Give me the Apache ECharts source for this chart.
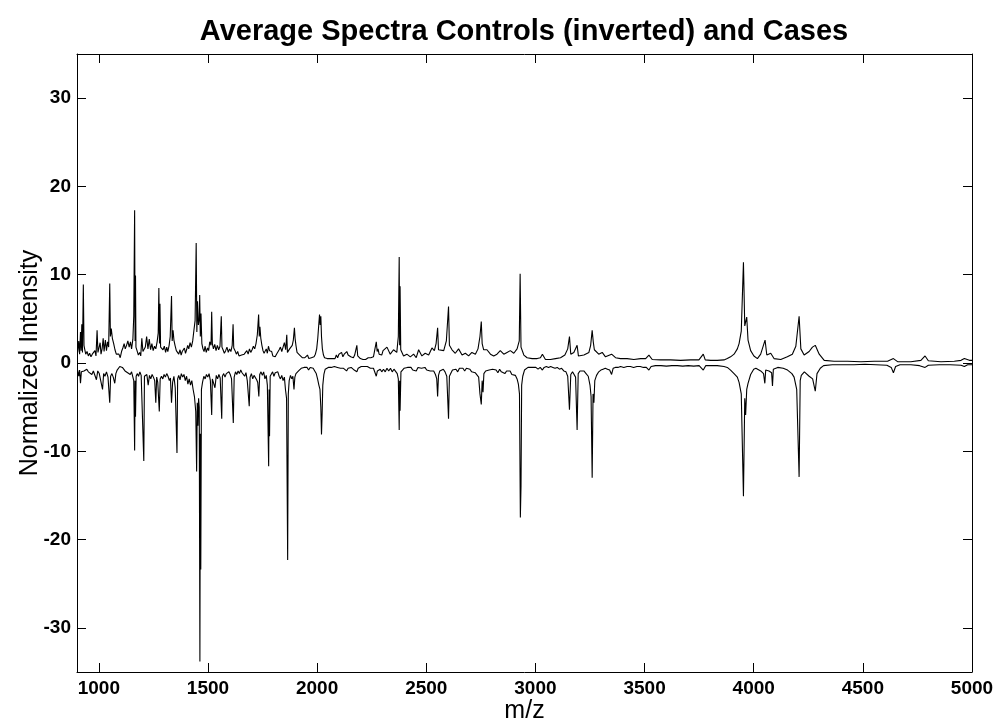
<!DOCTYPE html>
<html>
<head>
<meta charset="utf-8">
<title>Average Spectra</title>
<script src="https://cdn.jsdelivr.net/npm/echarts@6/dist/echarts.min.js"></script>
<style>
  html, body { margin: 0; padding: 0; background: #fff; }
  #chart { width: 996px; height: 724px; }
</style>
</head>
<body>
<div id="chart"></div>
<script>
// tick positions
const mzTicks = [1000, 1500, 2000, 2500, 3000, 3500, 4000, 4500, 5000];
const intensityTicks = [-30, -20, -10, 0, 10, 20, 30];

// average spectrum of the cases, [m/z, intensity]
const cases = [
  [903, 1.2], [908, 2.5], [912, 1.0], [916, 3.5], [919, 1.4], [922, 4.4], [925, 1.2], [929, 8.9], [932, 2.0], [935, 1.6],
  [940, 1.0], [946, 1.3], [952, 0.8], [958, 1.1], [964, 0.7], [970, 1.0], [976, 0.9], [982, 1.4], [987, 0.8], [992, 3.7],
  [996, 1.2], [1001, 1.0], [1006, 2.3], [1010, 1.0], [1015, 1.6], [1020, 2.8], [1024, 1.3], [1030, 2.6], [1035, 1.4], [1040, 2.4],
  [1045, 1.8], [1050, 9.0], [1053, 3.0], [1057, 3.9], [1062, 2.8], [1068, 2.2], [1074, 1.5], [1080, 1.0], [1086, 0.8], [1092, 1.0],
  [1098, 0.6], [1104, 1.3], [1110, 1.7], [1116, 2.2], [1121, 1.6], [1127, 2.0], [1133, 2.5], [1139, 1.8], [1145, 2.4], [1150, 1.6],
  [1156, 2.7], [1160, 5.3], [1164, 17.3], [1166, 2.5], [1168, 9.9], [1170, 1.8], [1175, 1.4], [1181, 0.9], [1187, 1.2], [1192, 0.8],
  [1197, 2.8], [1202, 1.3], [1207, 1.2], [1213, 1.8], [1219, 3.0], [1225, 1.6], [1231, 2.7], [1237, 1.5], [1243, 2.2], [1249, 1.4],
  [1255, 1.9], [1261, 1.6], [1267, 2.4], [1272, 3.4], [1275, 8.5], [1278, 2.2], [1280, 6.7], [1283, 1.8], [1288, 2.0], [1294, 1.5],
  [1300, 1.9], [1306, 1.2], [1311, 1.8], [1316, 1.3], [1322, 2.0], [1327, 3.0], [1333, 7.6], [1336, 2.5], [1340, 3.7], [1344, 2.6],
  [1349, 2.0], [1355, 1.4], [1361, 1.6], [1366, 1.0], [1372, 1.5], [1377, 0.9], [1382, 1.3], [1387, 1.2], [1392, 1.7], [1397, 1.1],
  [1402, 1.5], [1407, 2.0], [1412, 1.6], [1418, 2.3], [1424, 1.8], [1430, 2.5], [1436, 3.8], [1441, 4.8], [1446, 13.6], [1449, 3.5],
  [1452, 7.0], [1456, 4.3], [1460, 5.0], [1462, 7.7], [1465, 3.0], [1468, 5.6], [1472, 2.2], [1477, 1.6], [1482, 1.3], [1487, 1.9],
  [1492, 1.2], [1498, 1.7], [1503, 1.4], [1508, 2.4], [1514, 2.0], [1517, 5.8], [1520, 2.2], [1525, 1.6], [1531, 2.1], [1537, 1.4],
  [1543, 2.0], [1549, 1.5], [1555, 1.9], [1561, 5.3], [1564, 1.8], [1569, 1.5], [1575, 1.1], [1581, 1.4], [1587, 1.8], [1593, 1.2],
  [1599, 1.6], [1605, 1.3], [1611, 2.0], [1615, 4.4], [1618, 1.7], [1624, 1.4], [1630, 1.0], [1636, 1.3], [1642, 0.8], [1648, 0.6],
  [1654, 0.9], [1660, 0.7], [1666, 1.0], [1672, 0.8], [1678, 1.4], [1684, 1.0], [1690, 1.6], [1696, 1.2], [1702, 1.5], [1708, 1.9],
  [1714, 1.6], [1720, 2.2], [1726, 3.2], [1732, 5.5], [1735, 3.0], [1738, 4.1], [1742, 2.8], [1747, 2.0], [1752, 1.4], [1757, 1.1],
  [1762, 0.9], [1767, 1.6], [1772, 1.1], [1777, 1.9], [1782, 1.4], [1787, 1.2], [1792, 1.3], [1797, 0.8], [1802, 0.9], [1808, 0.7],
  [1814, 1.0], [1820, 1.2], [1826, 1.5], [1832, 1.8], [1838, 1.3], [1844, 1.8], [1850, 2.3], [1856, 1.5], [1861, 3.2], [1864, 1.2],
  [1868, 1.3], [1874, 1.6], [1880, 1.4], [1886, 2.0], [1891, 2.6], [1896, 4.0], [1899, 2.8], [1903, 2.0], [1908, 1.2], [1914, 1.0],
  [1920, 0.9], [1926, 0.7], [1932, 0.6], [1938, 0.8], [1944, 0.6], [1950, 0.7], [1956, 0.9], [1962, 0.5], [1968, 0.7], [1974, 0.6],
  [1980, 0.8], [1986, 0.7], [1992, 1.0], [1998, 1.6], [2003, 2.8], [2008, 4.5], [2011, 5.5], [2014, 4.3], [2017, 5.3], [2020, 3.0],
  [2024, 1.6], [2029, 0.9], [2034, 0.6], [2040, 0.5], [2046, 0.5], [2052, 0.6], [2058, 0.5], [2064, 0.6], [2070, 0.5], [2076, 0.6],
  [2082, 0.5], [2088, 0.9], [2094, 0.6], [2100, 1.0], [2106, 0.8], [2112, 1.2], [2118, 0.7], [2124, 1.0], [2130, 0.8], [2136, 1.3],
  [2142, 0.9], [2148, 1.1], [2154, 0.7], [2160, 0.8], [2166, 0.6], [2172, 0.9], [2178, 1.0], [2182, 2.0], [2186, 0.8], [2192, 0.6],
  [2198, 0.5], [2204, 0.5], [2210, 0.4], [2216, 0.5], [2222, 0.4], [2228, 0.5], [2234, 0.6], [2240, 0.5], [2246, 0.6], [2252, 0.5],
  [2258, 0.7], [2264, 0.6], [2271, 2.4], [2275, 1.3], [2279, 1.6], [2284, 1.0], [2290, 1.2], [2296, 0.9], [2302, 1.4], [2310, 1.2],
  [2320, 1.8], [2335, 1.0], [2350, 1.5], [2365, 1.2], [2372, 3.0], [2376, 12.0], [2378, 2.0], [2380, 8.7], [2383, 1.5], [2396, 0.8],
  [2411, 1.0], [2427, 0.7], [2442, 1.0], [2454, 0.6], [2465, 1.5], [2480, 0.8], [2495, 1.1], [2511, 0.9], [2526, 1.7], [2537, 1.4],
  [2545, 2.2], [2552, 4.0], [2556, 1.5], [2564, 1.7], [2580, 1.4], [2592, 2.5], [2602, 6.4], [2606, 2.0], [2618, 1.5], [2633, 1.1],
  [2648, 1.6], [2664, 0.9], [2679, 1.1], [2694, 0.8], [2709, 1.2], [2725, 1.0], [2737, 1.6], [2746, 3.0], [2752, 4.7], [2756, 2.2],
  [2763, 1.5], [2778, 1.5], [2794, 1.0], [2809, 0.8], [2824, 1.0], [2839, 1.4], [2855, 1.0], [2870, 1.2], [2885, 1.4], [2901, 1.1],
  [2916, 1.6], [2926, 2.5], [2930, 10.1], [2934, 1.8], [2947, 0.9], [2962, 0.6], [2985, 0.5], [3008, 0.5], [3023, 0.6], [3032, 1.0],
  [3046, 0.4], [3069, 0.4], [3092, 0.5], [3115, 0.6], [3135, 0.9], [3148, 1.6], [3156, 3.0], [3162, 1.0], [3176, 1.2], [3191, 2.0],
  [3197, 0.8], [3222, 0.9], [3245, 1.2], [3253, 2.0], [3260, 3.7], [3265, 2.4], [3270, 1.5], [3290, 1.0], [3306, 1.2], [3321, 0.7],
  [3349, 1.0], [3367, 0.6], [3390, 0.5], [3420, 0.5], [3451, 0.4], [3482, 0.5], [3505, 0.5], [3520, 0.9], [3535, 0.4], [3573, 0.35],
  [3619, 0.35], [3665, 0.3], [3711, 0.35], [3749, 0.35], [3769, 1.0], [3778, 0.35], [3803, 0.3], [3833, 0.3], [3864, 0.35], [3879, 0.5],
  [3894, 0.7], [3910, 1.0], [3925, 1.6], [3933, 2.2], [3943, 3.6], [3953, 11.4], [3959, 4.2], [3968, 5.2], [3974, 2.6], [3986, 1.4],
  [4001, 0.8], [4017, 0.5], [4032, 1.0], [4052, 2.6], [4060, 0.9], [4078, 1.1], [4093, 0.5], [4124, 0.4], [4154, 0.7], [4177, 1.0],
  [4193, 1.9], [4208, 5.3], [4216, 1.6], [4231, 0.9], [4254, 1.3], [4269, 1.8], [4282, 2.0], [4300, 1.0], [4323, 0.3], [4368, 0.2],
  [4430, 0.2], [4491, 0.15], [4552, 0.2], [4613, 0.2], [4640, 0.5], [4659, 0.15], [4720, 0.15], [4766, 0.3], [4785, 0.8], [4800, 0.25],
  [4858, 0.15], [4919, 0.2], [4950, 0.3], [4965, 0.5], [4988, 0.3], [5000, 0.3]
];

// average spectrum of the controls (positive), plotted inverted
const controls = [
  [903, 0.8], [908, 1.5], [912, 0.8], [916, 2.3], [920, 1.0], [926, 1.2], [932, 0.9], [938, 1.1], [945, 0.7], [952, 1.0],
  [960, 0.8], [968, 1.3], [975, 0.9], [989, 1.9], [995, 0.9], [1002, 1.2], [1008, 1.0], [1017, 3.0], [1022, 1.2], [1028, 1.5],
  [1035, 1.0], [1042, 1.6], [1050, 4.5], [1054, 1.5], [1060, 1.2], [1066, 1.6], [1073, 2.3], [1078, 1.2], [1084, 0.8], [1090, 0.6],
  [1096, 0.4], [1102, 0.3], [1108, 0.5], [1114, 0.6], [1120, 0.9], [1126, 0.7], [1132, 1.1], [1138, 0.9], [1144, 1.3], [1150, 1.0],
  [1156, 1.6], [1160, 2.0], [1164, 9.9], [1166, 2.0], [1168, 6.1], [1171, 1.5], [1176, 1.2], [1182, 1.5], [1188, 1.0], [1194, 1.4],
  [1200, 1.2], [1206, 11.1], [1209, 1.5], [1214, 1.6], [1220, 1.3], [1226, 2.5], [1232, 1.4], [1238, 1.8], [1244, 1.3], [1250, 1.6],
  [1256, 2.0], [1261, 4.5], [1265, 1.6], [1270, 2.2], [1277, 5.5], [1281, 1.8], [1287, 1.5], [1293, 1.8], [1299, 1.3], [1305, 1.6],
  [1311, 1.2], [1317, 1.5], [1323, 2.0], [1328, 1.7], [1333, 4.5], [1338, 2.2], [1344, 1.5], [1350, 2.8], [1358, 10.2], [1361, 1.8],
  [1366, 1.4], [1372, 1.9], [1378, 1.2], [1384, 1.6], [1390, 1.3], [1396, 2.0], [1402, 1.5], [1408, 2.4], [1414, 1.8], [1420, 2.5],
  [1426, 2.0], [1432, 3.0], [1438, 3.8], [1444, 5.5], [1448, 12.3], [1451, 4.5], [1454, 7.1], [1457, 4.0], [1460, 5.0], [1463, 33.8],
  [1465, 8.0], [1467, 23.4], [1470, 3.0], [1475, 2.2], [1481, 1.5], [1487, 1.8], [1493, 1.3], [1499, 1.6], [1505, 1.2], [1511, 2.0],
  [1517, 5.9], [1520, 1.8], [1526, 1.6], [1532, 2.8], [1538, 1.4], [1544, 1.8], [1550, 1.3], [1556, 1.7], [1563, 6.3], [1566, 1.5],
  [1572, 1.2], [1578, 1.6], [1584, 1.2], [1590, 1.4], [1596, 1.0], [1602, 1.3], [1608, 1.8], [1616, 6.8], [1620, 1.6], [1626, 1.0],
  [1632, 1.3], [1638, 0.9], [1644, 1.2], [1650, 0.8], [1656, 1.1], [1662, 0.9], [1668, 1.5], [1674, 1.1], [1680, 2.0], [1689, 4.9],
  [1693, 1.6], [1699, 1.2], [1705, 1.8], [1711, 1.4], [1717, 1.6], [1723, 1.9], [1728, 2.2], [1733, 3.8], [1737, 1.3], [1743, 1.0],
  [1749, 1.4], [1755, 1.0], [1761, 1.8], [1767, 1.4], [1772, 2.5], [1778, 11.7], [1780, 3.0], [1782, 8.3], [1785, 1.5], [1790, 1.3],
  [1796, 1.0], [1802, 1.5], [1808, 1.1], [1814, 1.3], [1820, 1.0], [1826, 1.5], [1832, 1.8], [1838, 1.4], [1844, 2.0], [1850, 1.6],
  [1855, 3.0], [1860, 4.0], [1865, 22.3], [1868, 3.5], [1872, 2.0], [1878, 1.4], [1884, 1.8], [1889, 1.5], [1894, 3.0], [1898, 1.6],
  [1903, 1.2], [1909, 1.4], [1915, 0.9], [1921, 0.8], [1927, 0.6], [1933, 0.7], [1940, 0.5], [1947, 0.6], [1954, 0.5], [1961, 0.8],
  [1968, 0.5], [1975, 0.7], [1982, 0.6], [1989, 0.9], [1996, 1.2], [2002, 1.8], [2008, 2.5], [2013, 3.0], [2017, 5.0], [2020, 8.1],
  [2023, 5.7], [2026, 2.5], [2031, 1.3], [2037, 0.7], [2044, 0.6], [2051, 0.5], [2058, 0.7], [2065, 0.5], [2072, 0.6], [2079, 0.4],
  [2086, 0.6], [2093, 0.5], [2100, 0.7], [2107, 0.6], [2114, 0.8], [2121, 0.6], [2128, 0.7], [2135, 0.9], [2142, 0.6], [2149, 0.7],
  [2156, 0.5], [2163, 0.6], [2170, 0.8], [2175, 0.6], [2182, 1.0], [2188, 0.6], [2195, 0.5], [2202, 0.4], [2209, 0.5], [2216, 0.4],
  [2223, 0.5], [2230, 0.4], [2237, 0.5], [2244, 0.6], [2251, 0.5], [2258, 0.6], [2264, 0.8], [2271, 1.5], [2276, 0.9], [2282, 1.0],
  [2289, 0.7], [2296, 1.0], [2304, 0.7], [2312, 1.0], [2320, 0.6], [2328, 0.9], [2336, 0.6], [2344, 1.0], [2352, 0.7], [2360, 0.8],
  [2367, 1.2], [2372, 1.8], [2376, 7.6], [2378, 2.0], [2380, 5.4], [2384, 1.0], [2390, 0.8], [2398, 0.6], [2406, 0.8], [2414, 0.5],
  [2422, 0.7], [2430, 0.5], [2438, 0.8], [2446, 0.6], [2454, 0.9], [2462, 0.5], [2470, 0.7], [2478, 0.6], [2486, 0.8], [2494, 0.5],
  [2502, 0.8], [2510, 0.6], [2518, 0.9], [2526, 0.7], [2534, 0.9], [2542, 1.3], [2548, 1.8], [2552, 3.8], [2556, 1.4], [2562, 0.9],
  [2570, 1.0], [2578, 0.7], [2586, 1.0], [2594, 1.5], [2602, 6.3], [2606, 1.5], [2612, 1.2], [2620, 0.8], [2628, 0.9], [2636, 0.7],
  [2644, 1.0], [2652, 0.6], [2660, 0.8], [2668, 0.6], [2676, 0.9], [2684, 0.6], [2692, 0.8], [2700, 0.7], [2708, 1.0], [2716, 0.8],
  [2724, 1.1], [2732, 1.0], [2740, 1.6], [2746, 3.5], [2752, 4.7], [2756, 2.0], [2760, 3.3], [2764, 1.2], [2772, 0.9], [2780, 1.0],
  [2788, 0.8], [2796, 1.0], [2804, 0.7], [2812, 0.9], [2820, 0.8], [2828, 1.1], [2836, 0.7], [2844, 1.0], [2852, 0.8], [2860, 1.2],
  [2868, 0.9], [2876, 1.1], [2884, 0.9], [2892, 1.3], [2900, 1.1], [2908, 1.4], [2916, 1.8], [2922, 2.4], [2927, 3.5], [2931, 17.5],
  [2934, 14.0], [2937, 2.5], [2942, 1.5], [2950, 0.8], [2958, 0.6], [2966, 0.5], [2975, 0.6], [2984, 0.5], [2993, 0.6], [3002, 0.5],
  [3012, 0.7], [3022, 0.5], [3032, 0.8], [3040, 0.5], [3050, 0.4], [3060, 0.5], [3070, 0.4], [3080, 0.5], [3090, 0.6], [3100, 0.5],
  [3110, 0.7], [3120, 0.6], [3130, 0.9], [3140, 1.0], [3148, 1.5], [3156, 5.3], [3162, 1.3], [3170, 1.0], [3178, 1.2], [3184, 1.6],
  [3191, 7.6], [3196, 1.2], [3204, 0.9], [3212, 1.0], [3222, 0.9], [3232, 1.2], [3242, 1.5], [3250, 2.5], [3255, 3.8], [3260, 13.0],
  [3264, 3.5], [3268, 4.5], [3272, 2.0], [3280, 1.4], [3290, 1.0], [3300, 0.8], [3310, 0.7], [3320, 0.6], [3330, 0.7], [3340, 0.8],
  [3349, 1.3], [3356, 0.6], [3366, 0.5], [3378, 0.5], [3390, 0.4], [3405, 0.5], [3420, 0.4], [3435, 0.4], [3450, 0.5], [3465, 0.4],
  [3480, 0.4], [3495, 0.5], [3508, 0.5], [3520, 0.8], [3530, 0.4], [3550, 0.3], [3575, 0.3], [3600, 0.35], [3625, 0.3], [3650, 0.3],
  [3675, 0.35], [3700, 0.3], [3725, 0.35], [3750, 0.3], [3769, 0.8], [3780, 0.3], [3803, 0.3], [3833, 0.3], [3864, 0.4], [3879, 0.5],
  [3894, 0.8], [3910, 1.2], [3925, 1.6], [3933, 2.2], [3943, 3.5], [3953, 15.1], [3959, 4.0], [3963, 5.9], [3968, 3.0], [3974, 2.3],
  [3986, 1.3], [4000, 0.7], [4010, 0.6], [4032, 0.9], [4045, 1.2], [4051, 2.3], [4055, 0.8], [4070, 0.9], [4082, 1.1], [4086, 2.6],
  [4090, 0.7], [4110, 0.5], [4135, 0.6], [4155, 0.8], [4175, 1.2], [4185, 1.6], [4197, 3.0], [4208, 12.9], [4213, 2.0], [4218, 1.4],
  [4232, 1.0], [4254, 1.5], [4270, 1.8], [4282, 3.2], [4290, 1.2], [4305, 0.6], [4320, 0.3], [4360, 0.2], [4410, 0.2], [4460, 0.2],
  [4510, 0.15], [4560, 0.2], [4610, 0.25], [4630, 0.5], [4640, 1.1], [4650, 0.4], [4670, 0.2], [4720, 0.2], [4760, 0.3], [4785, 0.5],
  [4800, 0.25], [4850, 0.2], [4900, 0.2], [4950, 0.25], [4965, 0.4], [4980, 0.2], [5000, 0.2]
];

const chart = echarts.init(document.getElementById('chart'), null, { renderer: 'canvas' });
chart.setOption(getOption());

function boxAxis(extra, ticks) {
  // MATLAB style box: black line, ticks pointing inwards
  return Object.assign({
    type: 'value',
    axisLine: { show: true, onZero: false, lineStyle: { color: '#000', width: 1 } },
    axisTick: { show: true, inside: true, length: 9, customValues: ticks, lineStyle: { color: '#000', width: 1 } },
    splitLine: { show: false },
    axisLabel: { show: false },
    nameMoveOverlap: false
  }, extra);
}

function getOption() {
  const font = 'Liberation Sans';
  const tickLabel = {
    color: '#000',
    fontFamily: font,
    fontWeight: 'bold',
    fontSize: 19,
    formatter: v => String(v)
  };
  return {
    animation: false,
    backgroundColor: '#fff',
    title: {
      text: 'Average Spectra Controls (inverted) and Cases',
      left: 519,
      top: 12,
      textAlign: 'center',
      textStyle: { fontFamily: font, fontWeight: 'bold', fontSize: 29, color: '#000' }
    },
    grid: { left: 77, right: 24, top: 54, bottom: 52, containLabel: false, outerBoundsMode: 'none' },
    xAxis: [
      boxAxis({
        position: 'bottom', min: 900, max: 5000,
        axisLabel: Object.assign({ margin: 7, customValues: mzTicks }, tickLabel),
        name: 'm/z', nameLocation: 'middle', nameGap: 27,
        nameTextStyle: { fontFamily: font, fontSize: 25, color: '#000' }
      }, mzTicks),
      boxAxis({ position: 'top', min: 900, max: 5000 }, mzTicks)
    ],
    yAxis: [
      boxAxis({
        position: 'left', min: -35, max: 35,
        axisLabel: Object.assign({ margin: 6, customValues: intensityTicks }, tickLabel),
        name: 'Normalized Intensity', nameLocation: 'middle', nameGap: 34,
        nameTextStyle: { fontFamily: font, fontSize: 25, color: '#000' }
      }, intensityTicks),
      boxAxis({ position: 'right', min: -35, max: 35 }, intensityTicks)
    ],
    series: [
      {
        name: 'Cases',
        type: 'line',
        xAxisIndex: 0,
        yAxisIndex: 0,
        showSymbol: false,
        lineStyle: { color: '#000', width: 1.1 },
        data: cases
      },
      {
        name: 'Controls (inverted)',
        type: 'line',
        xAxisIndex: 0,
        yAxisIndex: 0,
        showSymbol: false,
        lineStyle: { color: '#000', width: 1.1 },
        data: controls.map(p => [p[0], -p[1]])
      }
    ]
  };
}
</script>
</body>
</html>
